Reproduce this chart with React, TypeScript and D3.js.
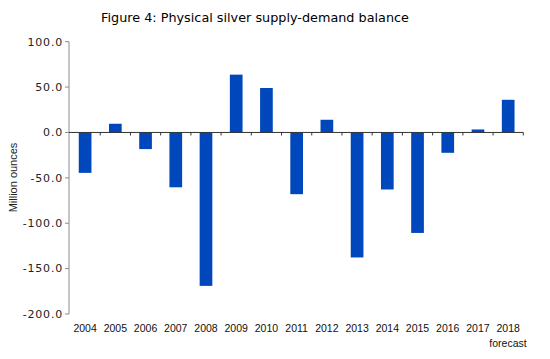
import React from "react";
import * as d3 from "d3";

const years = ["2004","2005","2006","2007","2008","2009","2010","2011","2012","2013","2014","2015","2016","2017","2018"];
const balance = [-44.5, 9.6, -18.3, -60.4, -169, 63.7, 49, -68, 14, -137.7, -62.8, -110.7, -22.4, 3.3, 36];
const yTicks = [100, 50, 0, -50, -100, -150, -200];
const title = "Figure 4: Physical silver supply-demand balance";
const yTitle = "Million ounces";
const forecastLabel = "forecast";

const fmt = (t: number) => d3.format(".1f")(t).replace("\u2212", "-");

export default function App() {
  const W = 550, H = 359;
  const x = d3.scaleBand<string>().domain(years).range([70, 523.3]).paddingInner(0.58).paddingOuter(0.29);
  const xb = d3.scaleBand<string>().domain(years).range([70, 523.3]);
  const y = d3.scaleLinear().domain([-200, 100]).range([314, 41.7]);
  const axisX = 69;
  return (
    <svg width={W} height={H} style={{ position: "absolute", left: 0, top: 0, background: "#fff" }}>
      <text x={255} y={22} textAnchor="middle" fontFamily="DejaVu Sans" fontSize={12.8} fill="#000">{title}</text>
      <line x1={axisX} x2={axisX} y1={y(100)} y2={y(-200)} stroke="#8c8c8c" strokeWidth={1} />
      {yTicks.map(t => (
        <g key={t}>
          <line x1={axisX - 4} x2={axisX} y1={y(t)} y2={y(t)} stroke="#8c8c8c" />
          <text x={63} y={y(t)} dy="0.35em" textAnchor="end" fontFamily="DejaVu Sans" fontSize={11} letterSpacing={0.8} fill="#222">{fmt(t)}</text>
        </g>
      ))}
      <text transform={`translate(17,${177.5}) rotate(-90)`} textAnchor="middle" fontFamily="Liberation Sans" fontSize={11} fill="#222">{yTitle}</text>
      {years.map((yr, i) => {
        const v = balance[i];
        return (
          <rect key={yr} x={x(yr)} width={x.bandwidth()} y={y(Math.max(0, v))} height={Math.abs(y(v) - y(0))} fill="#0047bb" />
        );
      })}
      <line x1={axisX} x2={523.3} y1={y(0)} y2={y(0)} stroke="#333" strokeWidth={1} />
      {years.map(yr => (
        <line key={"t" + yr} x1={(xb(yr) as number) + xb.bandwidth()} x2={(xb(yr) as number) + xb.bandwidth()} y1={y(0)} y2={y(0) + 3} stroke="#333" />
      ))}
      {years.map(yr => (
        <text key={"l" + yr} x={(xb(yr) as number) + xb.bandwidth() / 2} y={332} textAnchor="middle" fontFamily="Liberation Sans" fontSize={10.5} fill="#111">{yr}</text>
      ))}
      <text x={508} y={347} textAnchor="middle" fontFamily="Liberation Sans" fontSize={10.5} fill="#111">{forecastLabel}</text>
    </svg>
  );
}
